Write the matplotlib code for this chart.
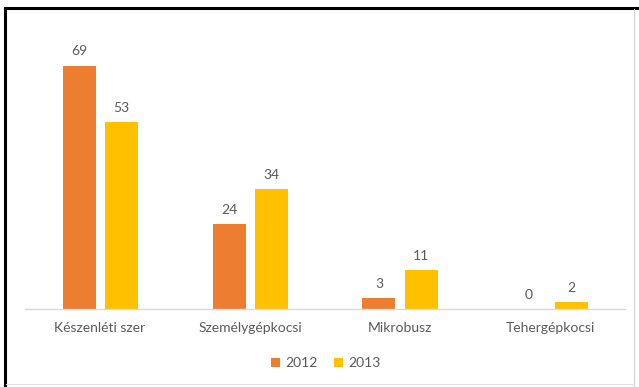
import matplotlib.pyplot as plt
import matplotlib.lines as mlines
import numpy as np

categories = ["Készenléti szer", "Személygépkocsi", "Mikrobusz", "Tehergépkocsi"]
years = ["2012", "2013"]
values_2012 = [69, 24, 3, 0]
values_2013 = [53, 34, 11, 2]

colors = ["#ED7D31", "#FFC000"]
text_color = "#595959"

plt.rcParams['font.family'] = ['Lato', 'DejaVu Sans']

fig = plt.figure(figsize=(6.39, 3.87), dpi=100)
ax = fig.add_axes([25 / 639, 1 - 309 / 387, 600 / 639, 282 / 387])

x = np.arange(len(categories))
width = 0.22
offset = 0.14

for vals, yr, col, sgn in [(values_2012, years[0], colors[0], -1),
                            (values_2013, years[1], colors[1], 1)]:
    bars = ax.bar(x + sgn * offset, vals, width, color=col, label=yr)
    for b, v in zip(bars, vals):
        ax.annotate(str(v), (b.get_x() + b.get_width() / 2, v),
                    xytext=(0, 6), textcoords="offset points",
                    ha="center", va="bottom", fontsize=10, color=text_color)

ax.set_xlim(-0.5, len(categories) - 0.5)
ax.set_ylim(0, 80)
ax.set_xticks(x)
ax.set_xticklabels(categories, fontsize=10, color=text_color)
ax.tick_params(axis="x", length=0, pad=9)
ax.set_yticks([])
for s in ["top", "left", "right"]:
    ax.spines[s].set_visible(False)
ax.spines["bottom"].set_color("#d9d9d9")
ax.spines["bottom"].set_linewidth(1)

leg = ax.legend(loc="center", bbox_to_anchor=(326 / 639, 1 - 363 / 387),
                bbox_transform=fig.transFigure, ncol=2, frameon=False,
                fontsize=10, handlelength=0.6, handleheight=0.6,
                handletextpad=0.4, columnspacing=1.2)
for t in leg.get_texts():
    t.set_color(text_color)

# outer frame: dark top/left edges, faint right/bottom edges
fig.add_artist(mlines.Line2D([5 / 639, 1], [1 - 8 / 387] * 2,
                             transform=fig.transFigure, color="black", lw=2.2))
fig.add_artist(mlines.Line2D([5 / 639] * 2, [0, 1 - 8 / 387],
                             transform=fig.transFigure, color="black", lw=2.2))
fig.add_artist(mlines.Line2D([634 / 639] * 2, [1 / 387, 1 - 9 / 387],
                             transform=fig.transFigure, color="#d0d0d0", lw=0.8))
fig.add_artist(mlines.Line2D([6 / 639, 634 / 639], [3 / 387] * 2,
                             transform=fig.transFigure, color="#e0e0e0", lw=0.8))

fig.savefig("out.png", dpi=100)
